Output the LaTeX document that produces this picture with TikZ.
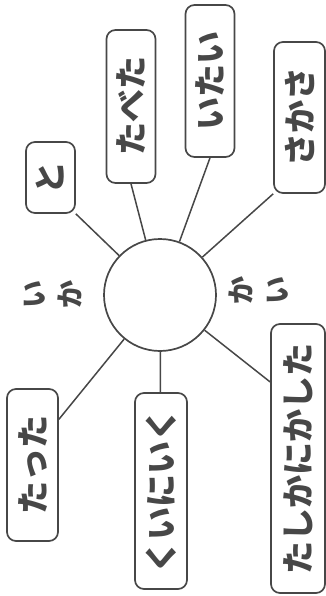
\documentclass[tikz,border=0pt]{standalone}
\usepackage{fontspec}
\newfontfamily\jp{Noto Sans CJK JP}
\definecolor{ink}{HTML}{474747}

\begin{document}
\begin{tikzpicture}[
    x=1pt,y=-1pt,
    word/.style={draw=ink,line width=1.7pt,rounded corners=9pt,minimum width=49pt,inner sep=0pt,text=ink,font=\jp\bfseries\fontsize{33}{33}\selectfont},
    hub/.style={draw=ink,line width=1.7pt,circle,minimum size=112pt,inner sep=0pt},
    kana/.style={inner sep=0pt,text=ink,font=\jp\bfseries\fontsize{28}{36}\selectfont},
    spoke/.style={draw=ink,line width=1.5pt}
  ]
    \useasboundingbox (0,0) rectangle (326,596);

    \node[hub] (hub) at (160,295) {};

    % upper words
    \node[word,minimum height=71pt] (to) at (50.5,177.5) {\rotatebox{90}{と}};
    \node[word,minimum height=153pt] (tabeta) at (131,106.5) {\rotatebox{90}{たべた}};
    \node[word,minimum height=152pt] (itai) at (210,81) {\rotatebox{90}{いたい}};
    \node[word,minimum height=151pt,minimum width=51pt] (sakasa) at (299.5,117.5) {\rotatebox{90}{さかさ}};

    % lower words
    \node[word,minimum height=152pt,minimum width=51pt] (tatta) at (32.5,465) {\rotatebox{90}{たった}};
    \node[word,minimum height=196pt,minimum width=52pt] (kuiniiku) at (161,491) {\rotatebox{90}{くいにいく}};
    \node[word,minimum height=269pt,minimum width=54pt] (tashika) at (298,458.5) {\rotatebox{90}{たしかにかした}};

    % side readings
    \node[kana] (ika) at (55,294) {\rotatebox{90}{\begin{tabular}{@{}c@{}}い\\か\end{tabular}}};
    \node[kana] (kai) at (262,290) {\rotatebox{90}{\begin{tabular}{@{}c@{}}か\\い\end{tabular}}};

    % spokes
    \draw[spoke] (to.south east) -- (hub);
    \draw[spoke] (tabeta.south) -- (hub);
    \draw[spoke] (itai.south) -- (hub);
    \draw[spoke] (sakasa.south west) -- (hub);
    \draw[spoke] (tatta.60) -- (hub);
    \draw[spoke] (kuiniiku) -- (hub);
    \draw[spoke] (tashika.110) -- (hub);
\end{tikzpicture}
\end{document}
